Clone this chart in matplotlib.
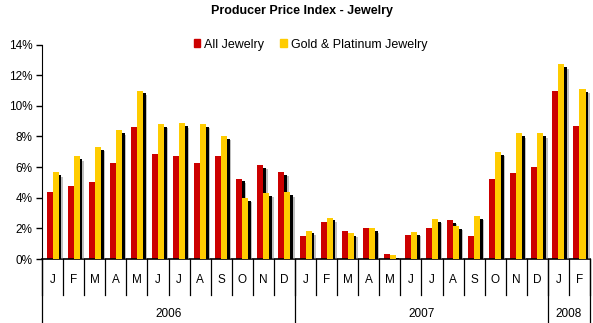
import numpy as np
import matplotlib.pyplot as plt
import matplotlib.patheffects as pe
from matplotlib.patches import Patch
from matplotlib.ticker import FuncFormatter
from matplotlib.transforms import blended_transform_factory

plt.rcParams['font.family'] = ['Liberation Sans', 'DejaVu Sans']

months = ["J", "F", "M", "A", "M", "J", "J", "A", "S", "O", "N", "D",
          "J", "F", "M", "A", "M", "J", "J", "A", "S", "O", "N", "D",
          "J", "F"]
years = ["2006", "2007", "2008"]
year_counts = [12, 12, 2]

all_jewelry = [4.4, 4.8, 5.0, 6.25, 8.6, 6.85, 6.7, 6.3, 6.7, 5.25, 6.15, 5.7,
               1.5, 2.45, 1.85, 2.0, 0.3, 1.6, 2.05, 2.55, 1.5, 5.25, 5.6, 6.0,
               11.0, 8.7]
gold_platinum = [5.65, 6.7, 7.3, 8.4, 11.0, 8.8, 8.85, 8.8, 8.05, 4.0, 4.3, 4.35,
                 1.85, 2.7, 1.7, 2.0, 0.25, 1.75, 2.6, 2.15, 2.8, 7.0, 8.2, 8.2,
                 12.7, 11.1]

red = "#CC0000"
gold = "#FFCC00"

fig = plt.figure(figsize=(5.93, 3.23), dpi=100)
ax = fig.add_axes([0.071, 0.198, 0.924, 0.664])

x = np.arange(len(months))
w = 0.285
shadow = [pe.SimplePatchShadow(offset=(3, -3), shadow_rgbFace="grey", alpha=0.5),
          pe.SimplePatchShadow(offset=(2, -2), shadow_rgbFace="black", alpha=1.0),
          pe.Normal()]
b1 = ax.bar(x - w / 2, all_jewelry, w, color=red, zorder=2)
b2 = ax.bar(x + w / 2, gold_platinum, w, color=gold, zorder=3)
for b in list(b1) + list(b2):
    b.set_path_effects(shadow)

ax.set_xlim(-0.5, len(months) - 0.5)
ax.set_ylim(0, 14)
ax.set_yticks(np.arange(0, 15, 2))
ax.yaxis.set_major_formatter(FuncFormatter(lambda v, p: f"{v:.0f}%"))
ax.tick_params(axis="y", direction="out", length=4, width=1, labelsize=8.5, pad=3)
ax.set_xticks([])
for s in ["top", "right"]:
    ax.spines[s].set_visible(False)
ax.spines["bottom"].set_linewidth(1.2)

# multi-level category axis
trans = blended_transform_factory(ax.transData, ax.transAxes)
for i, m in enumerate(months):
    ax.text(i, -0.1, m, transform=trans, ha="center", va="center", fontsize=8.5)
for i in range(len(months) + 1):
    ax.plot([i - 0.5, i - 0.5], [0, -0.168], transform=trans, color="black",
            lw=0.9, clip_on=False)
start = 0
bounds = [0]
for yr, n in zip(years, year_counts):
    ax.text(start + n / 2 - 0.5, -0.255, yr, transform=trans, ha="center",
            va="center", fontsize=8.5)
    start += n
    bounds.append(start)
for bnd in bounds:
    ax.plot([bnd - 0.5, bnd - 0.5], [0, -0.3], transform=trans, color="black",
            lw=0.9, clip_on=False)

fig.text(0.51, 0.965, "Producer Price Index - Jewelry", ha="center", va="center",
         fontsize=9, fontweight="bold")
handles = [Patch(color=red, label="All Jewelry"),
           Patch(color=gold, label="Gold & Platinum Jewelry")]
ax.legend(handles=handles, loc="center", bbox_to_anchor=(0.49, 1.0), ncol=2,
          frameon=False, fontsize=9, handlelength=0.55, handleheight=0.55,
          handletextpad=0.3, columnspacing=1.3)

fig.savefig("out.png", dpi=100)
